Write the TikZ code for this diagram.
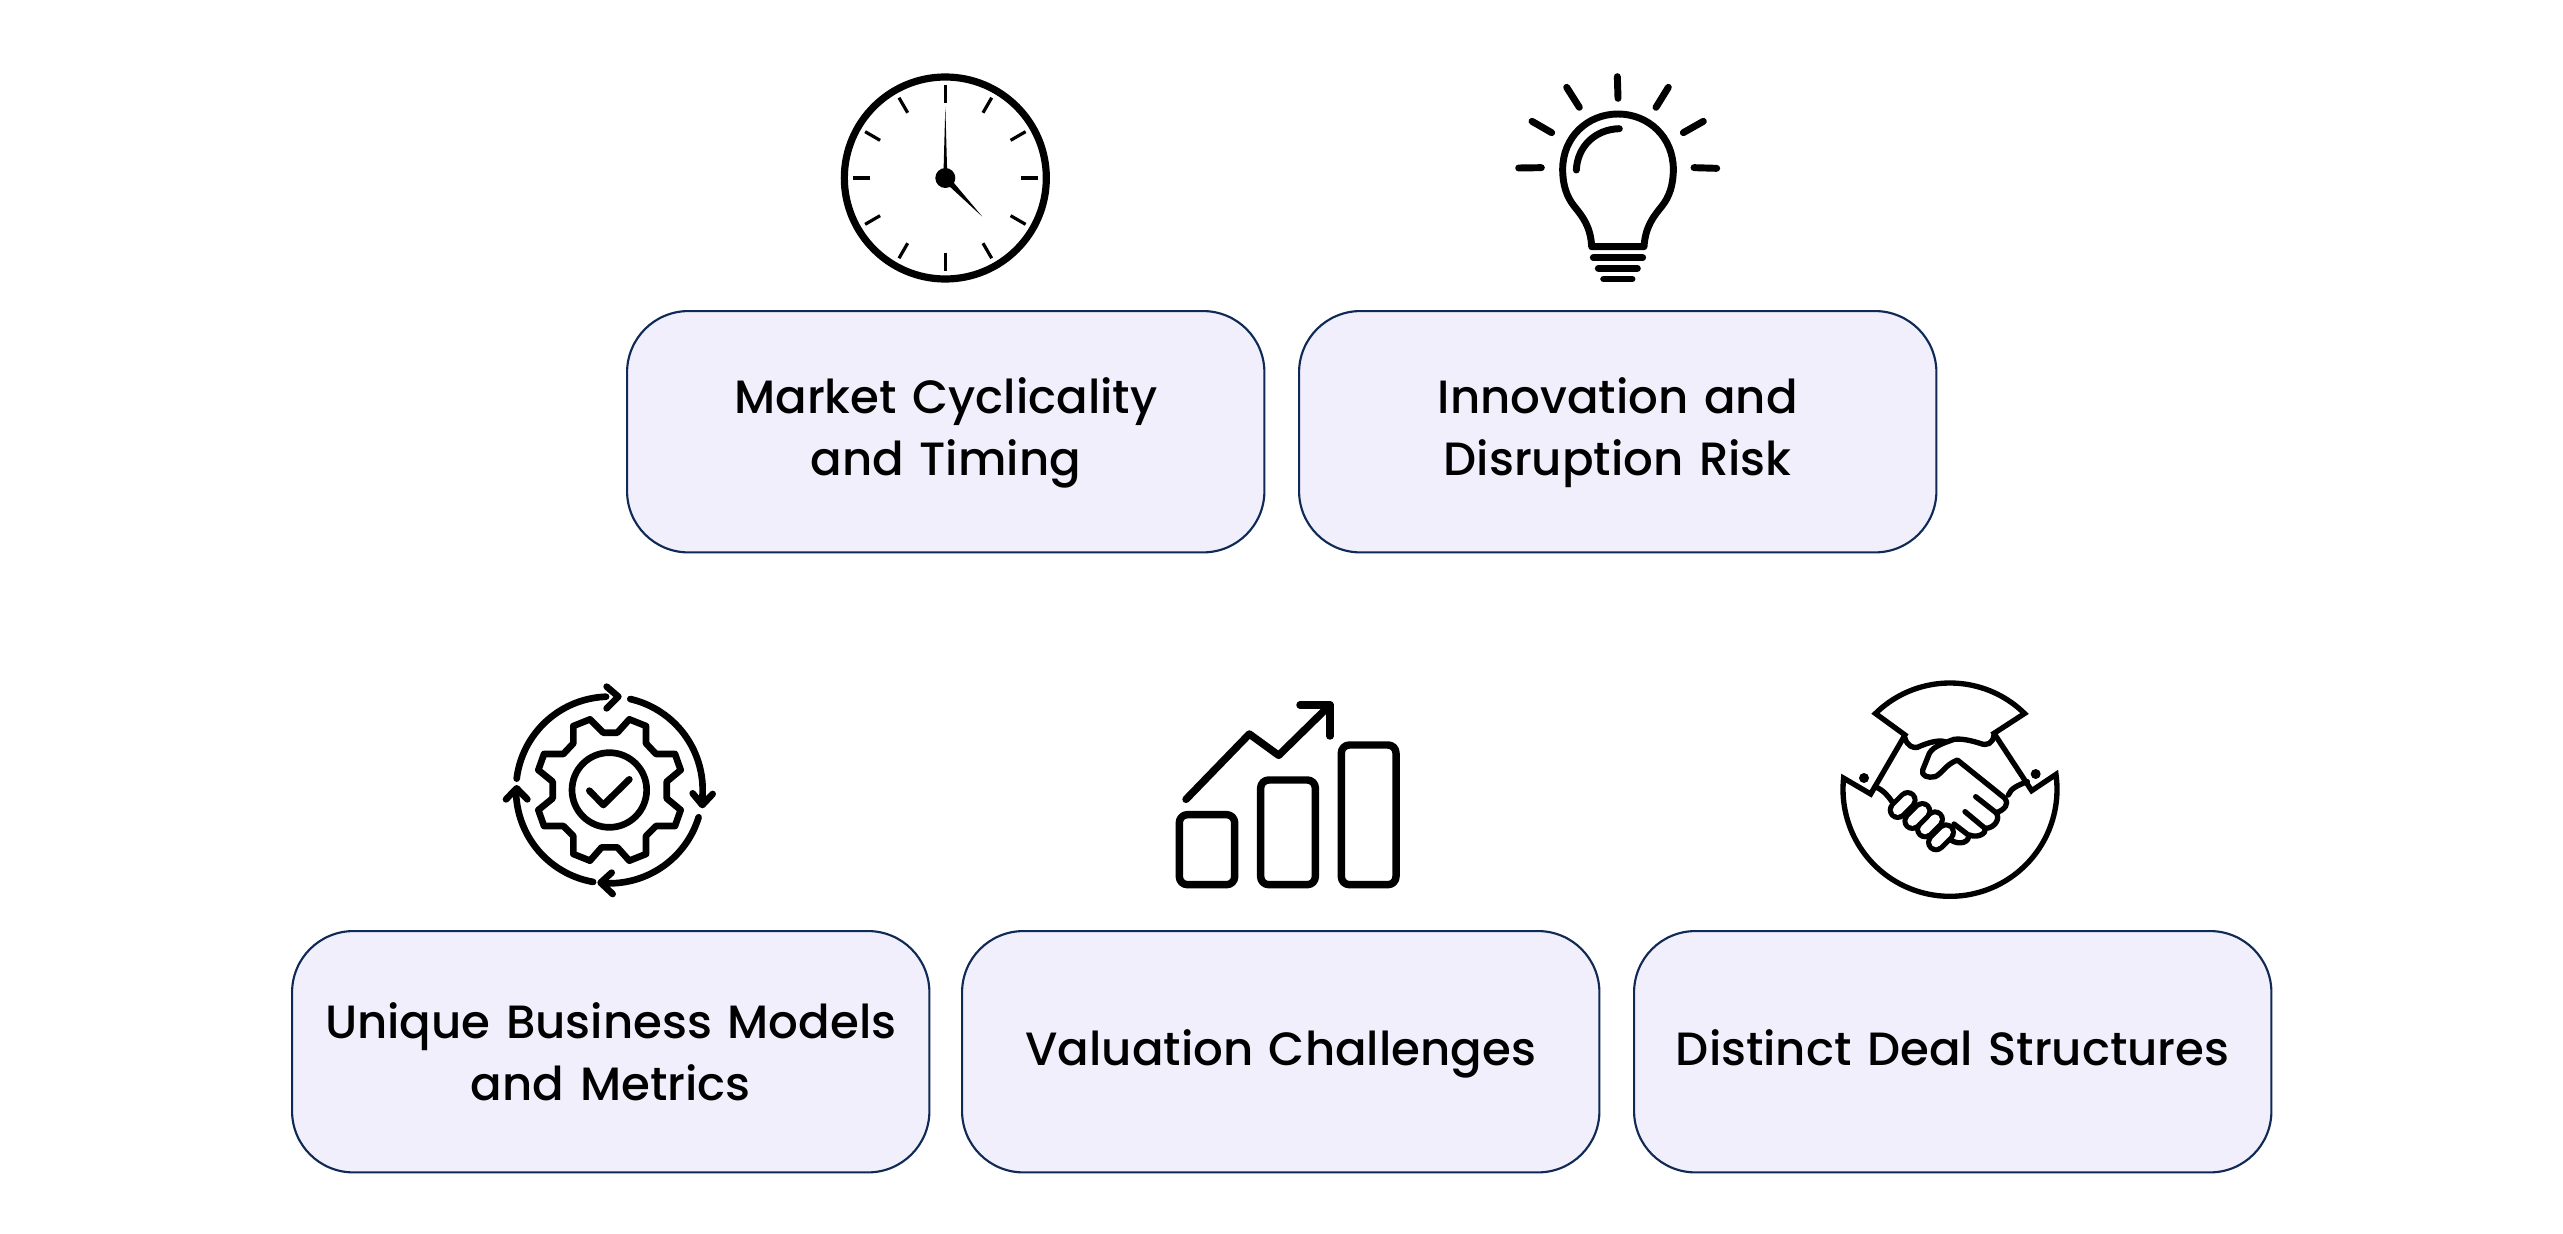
\documentclass[tikz,border=0pt]{standalone}
\usepackage{fontspec}
\setmainfont{Poppins Medium}[WordSpace=1.3]
\definecolor{boxfill}{HTML}{F1EFFC}
\definecolor{boxline}{HTML}{0F2A55}
\newcommand{\zarc}[5]{plot[domain=#4:#5,samples=60,smooth] ({#1+#3*cos(\x)},{#2-#3*sin(\x)})}
\tikzset{
  cardbox/.style={draw=boxline,line width=1.6pt,fill=boxfill,rounded corners=46pt,minimum width=478pt,minimum height=181pt,inner sep=0pt,align=center,text width=470pt,font=\fontsize{35}{46.5}\selectfont,anchor=north west},
  ic/.style={line width=#1,line cap=round,line join=round,draw=black},
  ic/.default=5pt,
  iconscope/.style={x=.25pt,y=-.25pt}
}
\begin{document}
\begin{tikzpicture}[x=.75pt,y=-.75pt]
\useasboundingbox (0,0) rectangle (2563,1234);
\fill[white] (0,0) rectangle (2563,1234);
\node[cardbox] (mkt) at (626,310) {\strut Market Cyclicality\\\strut and Timing};
\node[cardbox] (inn) at (1298,310) {\strut Innovation and\\\strut Disruption Risk};
\node[cardbox] (biz) at (291,930) {\rule{0pt}{41pt}\strut Unique Business Models\\\strut and Metrics};
\node[cardbox] (val) at (961,930) {\rule{0pt}{35pt}\strut Valuation Challenges};
\node[cardbox] (dea) at (1633,930) {\rule{0pt}{35pt}\strut Distinct Deal Structures};
% clock
\begin{scope}[shift={(820,50)},iconscope]
\draw[ic=5.4pt] (376,384) circle (303);
\foreach \a in {0,30,...,330}{\draw[line width=2.4pt] ({376+226*cos(\a)},{384-226*sin(\a)}) -- ({376+278*cos(\a)},{384-278*sin(\a)});}
\fill (376,384) circle (30);
\fill (370,384) -- (376,170) -- (382,384) -- cycle;
\fill (371,393) -- (487,500) -- (385,379) -- cycle;
\end{scope}
% bulb
\begin{scope}[shift={(1500,50)},iconscope]
\foreach \p/\q in {{(352,80)}/{(354,145)},{(200,112)}/{(238,172)},{(505,112)}/{(468,172)},{(96,214)}/{(155,248)},{(610,214)}/{(550,248)},{(56,354)}/{(124,353)},{(582,353)}/{(650,355)}}{\draw[ic=5.2pt] \p -- \q;}
\draw[ic=5.2pt] (275,590) .. controls (272,530) and (248,500) .. (222,468) .. controls (200,440) and (188,405) .. (188,358) .. controls (188,262) and (262,192) .. (354,192) .. controls (446,192) and (520,262) .. (520,358) .. controls (520,405) and (508,440) .. (486,468) .. controls (460,500) and (436,530) .. (432,590) -- cycle;
\draw[ic=5.2pt] (229,360) .. controls (232,290) and (285,238) .. (358,236);
\draw[ic=5.2pt] (280,623) -- (428,623);
\draw[ic=5.2pt] (295,655) -- (412,655);
\draw[ic=5.2pt] (311,687) -- (396,687);
\end{scope}
% gear
\begin{scope}[shift={(490,670)},iconscope]
\draw[ic=5pt] (358,360) circle (112);
\draw[ic=5pt] (298,362) -- (340,405) -- (418,328);
\draw[ic=5pt] (340,188) -- (382,188) -- (418,148) -- (468,168) -- (468,220) -- (498,252) -- (555,252) -- (572,300) -- (530,335) -- (530,385) -- (572,420) -- (555,468) -- (498,468) -- (468,498) -- (468,552) -- (418,572) -- (382,532) -- (335,532) -- (300,572) -- (250,552) -- (250,498) -- (220,468) -- (162,468) -- (145,420) -- (188,385) -- (188,335) -- (145,300) -- (162,252) -- (220,252) -- (250,220) -- (250,168) -- (300,148) -- cycle;
\draw[ic=5pt] \zarc{358}{360}{280}{173}{92};
\draw[ic=5pt] (350,50) -- (385,80) -- (350,115);
\draw[ic=5pt] \zarc{358}{360}{280}{77}{-8};
\draw[ic=5pt] (608,370) -- (637,405) -- (668,372);
\draw[ic=5pt] \zarc{358}{360}{280}{-17}{-95};
\draw[ic=5pt] (365,608) -- (332,638) -- (368,672);
\draw[ic=5pt] \zarc{358}{360}{280}{-100}{-180};
\draw[ic=5pt] (48,388) -- (80,355) -- (112,388);
\end{scope}
% chart
\begin{scope}[shift={(1160,680)},iconscope]
\draw[ic=5.6pt,rounded corners=6pt] (58,404) rectangle (224,614);
\draw[ic=5.6pt,rounded corners=6pt] (302,300) rectangle (466,614);
\draw[ic=5.6pt,rounded corners=6pt] (544,195) rectangle (708,614);
\draw[ic=5.6pt] (78,358) -- (268,162) -- (356,226) -- (510,75);
\draw[ic=5.6pt] (420,75) -- (510,75) -- (510,168);
\end{scope}
% handshake
\begin{scope}[shift={(1830,670)},iconscope]
\draw[line width=4pt,draw=black,miter limit=10,line join=miter] plot[domain=134.5:45.5,samples=40] ({360+319*cos(\x)},{358-319*sin(\x)}) -- (492,190) -- (605,362) -- plot[domain=8:-186,samples=90] ({360+321*cos(\x)},{358-321*sin(\x)}) -- (122,372) -- (225,195) -- cycle;
\fill (102,324) circle (15);
\fill (617,312) circle (15);
\draw[ic=4pt] (225,205) .. controls (232,228) and (250,235) .. (262,232) .. controls (285,222) and (320,208) .. (345,215);
\draw[ic=4pt] (492,195) .. controls (488,222) and (470,228) .. (450,220) .. controls (425,212) and (395,205) .. (372,208) .. controls (345,218) and (310,228) .. (298,250) -- (278,300) .. controls (272,318) and (295,325) .. (315,320) .. controls (335,312) and (345,285) .. (382,270) -- (525,385) .. controls (538,400) and (525,420) .. (498,428);
\draw[ic=4pt] (437,380) -- (498,428) .. controls (512,445) and (495,475) .. (465,475);
\draw[ic=4pt] (405,425) -- (465,475) .. controls (470,490) and (445,505) .. (418,495);
\draw[ic=4pt] (372,462) -- (415,495) .. controls (420,515) and (390,528) .. (362,510);
\draw[ic=4pt] (535,375) .. controls (542,355) and (565,345) .. (592,335);
\draw[ic=4pt] (135,350) .. controls (160,360) and (175,378) .. (188,398);
\foreach \cx/\cy in {333/502,300/463,262/438,218/405}{
  \draw[line width=15pt,line cap=round,black] (\cx-15,\cy+15) -- (\cx+15,\cy-15);
  \draw[line width=7.4pt,line cap=round,white] (\cx-15,\cy+15) -- (\cx+15,\cy-15);
}
\end{scope}
\end{tikzpicture}
\end{document}
